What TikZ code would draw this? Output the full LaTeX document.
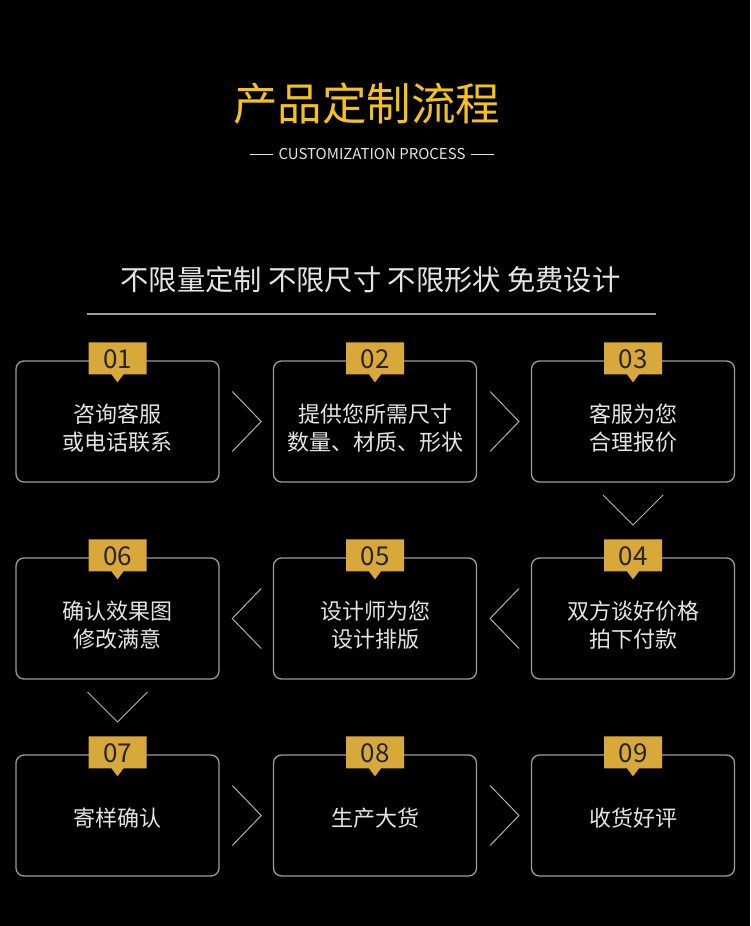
\documentclass[tikz,border=0pt]{standalone}
\usepackage{fontspec}
\setmainfont{Noto Sans CJK SC}
\usetikzlibrary{calc}
\definecolor{titlegold}{HTML}{F5C21D}
\definecolor{badgegold}{HTML}{D9A83A}
\definecolor{boxgray}{HTML}{9C9C9C}
\definecolor{txtgray}{HTML}{E4E4E4}
\definecolor{chevgray}{HTML}{B0B0B0}
\begin{document}
\begin{tikzpicture}[x=1pt,y=-1pt,
  stepbox/.style={draw=boxgray, line width=1.3pt, rounded corners=8pt, minimum width=203pt, minimum height=121pt, inner sep=0pt},
  steptxt/.style={text=txtgray, font=\fontsize{22}{28}\selectfont, align=center, inner sep=0pt},
  badgetxt/.style={text=black!85, font=\fontsize{26}{26}\selectfont, inner sep=0pt},
  chev/.style={draw=chevgray, line width=1pt},
  rulel/.style={draw=txtgray, line width=0.9pt}]
\fill[black] (0,0) rectangle (750,926);
\useasboundingbox (0,0) rectangle (750,926);
% header
\node[text=titlegold, font=\fontsize{44.5}{44.5}\selectfont, inner sep=0pt] (title) at (366.5,104) {产品定制流程};
\node[text=txtgray, font=\fontsize{15}{15}\selectfont, inner sep=0pt] (sub) at (372,154) {CUSTOMIZATION PROCESS};
\coordinate (sl1) at (250,154); \coordinate (sr2) at (494,154);
\draw[rulel] (sl1) -- ($(sub.west)+(-5,0)$);
\draw[rulel] ($(sub.east)+(5,0)$) -- (sr2);
\node[text=txtgray, font=\fontsize{28.3}{28.3}\selectfont, inner sep=0pt] (slogan) at (370.5,280) {不限量定制 不限尺寸 不限形状 免费设计};
\coordinate (ll) at (87,314); \coordinate (lr) at (656,314);
\draw[draw=boxgray, line width=1.2pt] (ll) -- (lr);
% boxes
\node[stepbox] (b1) at (117.5,421.5) {};
\node[stepbox] (b2) at (375,421.5) {};
\node[stepbox] (b3) at (633,421.5) {};
\node[stepbox] (b6) at (117.5,618.5) {};
\node[stepbox] (b5) at (375,618.5) {};
\node[stepbox] (b4) at (633,618.5) {};
\node[stepbox] (b7) at (117.5,815.5) {};
\node[stepbox] (b8) at (375,815.5) {};
\node[stepbox] (b9) at (633,815.5) {};
% texts
\node[steptxt] (t1) at ($(b1.center)+(0,7)$) {咨询客服\\或电话联系};
\node[steptxt] (t2) at ($(b2.center)+(0,7)$) {提供您所需尺寸\\数量、材质、形状};
\node[steptxt] (t3) at ($(b3.center)+(0,7)$) {客服为您\\合理报价};
\node[steptxt] (t4) at ($(b4.center)+(0,7)$) {双方谈好价格\\拍下付款};
\node[steptxt] (t5) at ($(b5.center)+(0,7)$) {设计师为您\\设计排版};
\node[steptxt] (t6) at ($(b6.center)+(0,7)$) {确认效果图\\修改满意};
\node[steptxt] (t7) at ($(b7.center)+(0,3)$) {寄样确认};
\node[steptxt] (t8) at ($(b8.center)+(0,3)$) {生产大货};
\node[steptxt] (t9) at ($(b9.center)+(0,3)$) {收货好评};
% badges
\foreach \b/\n in {b1/01,b2/02,b3/03,b4/04,b5/05,b6/06,b7/07,b8/08,b9/09} {
  \fill[badgegold] ($(\b.north)+(-29,-18)$) -- ($(\b.north)+(29,-18)$) -- ($(\b.north)+(29,14)$) -- ($(\b.north)+(6,14)$) -- ($(\b.north)+(0,22)$) -- ($(\b.north)+(-6,14)$) -- ($(\b.north)+(-29,14)$) -- cycle;
  \node[badgetxt] (n\n) at ($(\b.north)+(0,-1)$) {\n};
}
% chevrons
\foreach \a/\c in {b1/b2,b2/b3,b7/b8,b8/b9} {
  \coordinate (m) at ($(\a.east)!0.5!(\c.west)$);
  \draw[chev] ($(m)+(-14,-30)$) -- ($(m)+(15,0)$) -- ($(m)+(-14,30)$);
}
\foreach \a/\c in {b4/b5,b5/b6} {
  \coordinate (m) at ($(\a.west)!0.5!(\c.east)$);
  \draw[chev] ($(m)+(15,-30)$) -- ($(m)+(-14,0)$) -- ($(m)+(15,30)$);
}
\foreach \a/\c in {b3/b4,b6/b7} {
  \coordinate (m) at ($($(\a.south)!0.5!(\c.north)$)+(0,-10)$);
  \draw[chev] ($(m)+(-30,-15)$) -- ($(m)+(0,15)$) -- ($(m)+(30,-15)$);
}
\end{tikzpicture}
\end{document}
